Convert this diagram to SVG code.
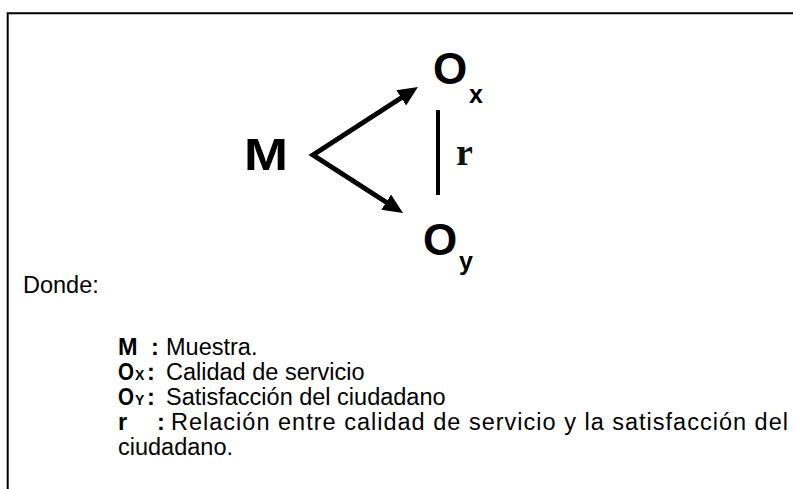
<svg xmlns="http://www.w3.org/2000/svg" width="793" height="489" viewBox="0 0 793 489">
  <style>
    .sans { font-family: "Liberation Sans", Arial, sans-serif; fill: #000; }
    .big { font-size: 44px; font-weight: bold; }
    .sub { font-size: 25px; font-weight: bold; }
    .txt { font-size: 23.5px; }
    .b { font-weight: bold; }
    .lsub { font-size: 14px; font-weight: bold; }
    .conn { fill: none; stroke: #000; }
  </style>
  <defs>
    <marker id="ah" markerUnits="userSpaceOnUse" markerWidth="22" markerHeight="20" viewBox="0 0 22 20" refX="8" refY="10" orient="auto-start-reverse">
      <path d="M0,1 L20,10 L0,19 z" fill="#000"/>
    </marker>
  </defs>
  <rect width="793" height="489" fill="#fff"/>
  <g id="frame" fill="none" stroke="#000" stroke-width="2">
    <path d="M7.7,489 L7.7,13.3 L793,13.3"/>
  </g>

  <g id="node-M">
    <text class="sans big" x="244" y="170" textLength="44" lengthAdjust="spacingAndGlyphs">M</text>
  </g>
  <g id="node-Ox">
    <text class="sans big" x="433" y="84">O</text>
    <text class="sans sub" x="469" y="103">x</text>
  </g>
  <g id="node-Oy">
    <text class="sans big" x="423" y="255">O</text>
    <text class="sans sub" x="459" y="270">y</text>
  </g>

  <g id="connectors">
    <path class="conn" stroke-width="5" stroke-linejoin="miter" d="M407.9,93.5 L313,155 L392.9,206.5" marker-start="url(#ah)" marker-end="url(#ah)"/>
    <line class="conn" stroke-width="4" x1="438" y1="110" x2="438" y2="195"/>
    <text x="456" y="165" font-family="'Liberation Serif', 'Times New Roman', serif" font-size="38" font-weight="bold" fill="#111">r</text>
  </g>

  <g id="legend" class="sans txt">
    <text x="23" y="293">Donde:</text>
    <text x="118" y="355" class="b">M</text>
    <text x="151" y="355" class="b">:</text>
    <text x="166" y="355">Muestra.</text>

    <text x="118" y="380" class="b" textLength="16" lengthAdjust="spacingAndGlyphs">O</text>
    <text x="135" y="380" class="lsub">X</text>
    <text x="147" y="380" class="b">:</text>
    <text x="166" y="380">Calidad de servicio</text>

    <text x="118" y="405" class="b" textLength="16" lengthAdjust="spacingAndGlyphs">O</text>
    <text x="135" y="405" class="lsub">Y</text>
    <text x="147" y="405" class="b">:</text>
    <text x="166" y="405">Satisfacción del ciudadano</text>

    <text x="118" y="430" class="b">r</text>
    <text x="157" y="430" class="b">:</text>
    <text x="171" y="430" textLength="617" lengthAdjust="spacing">Relación entre calidad de servicio y la satisfacción del</text>

    <text x="118" y="455">ciudadano.</text>
  </g>
</svg>
